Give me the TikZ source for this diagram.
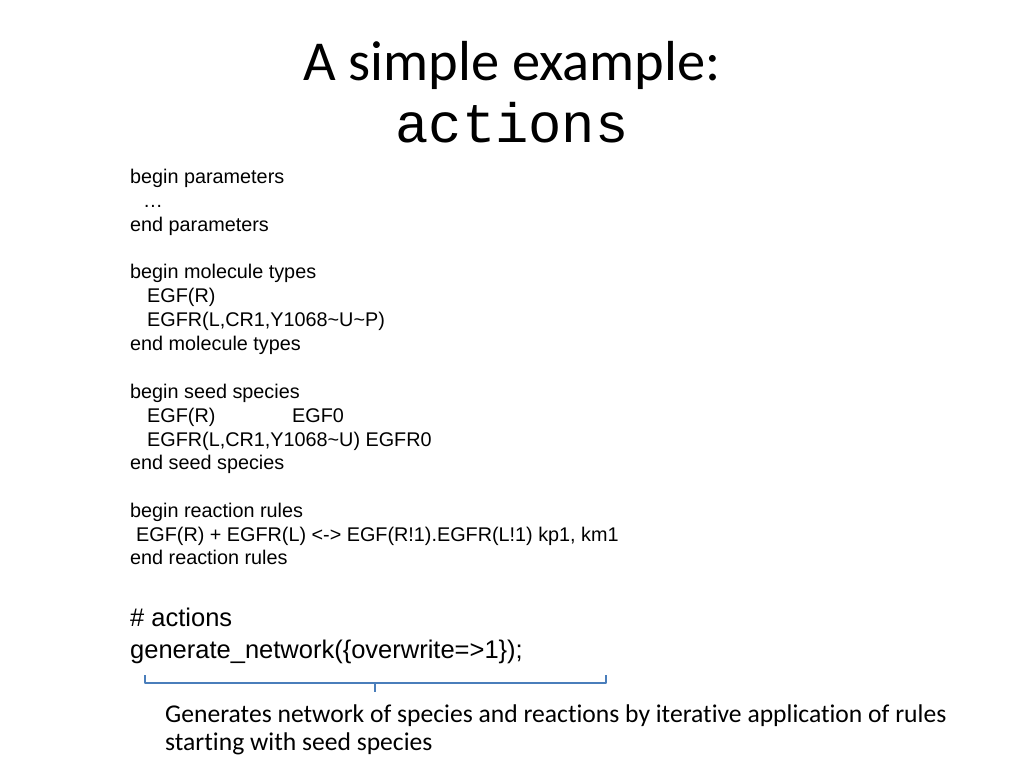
\documentclass[tikz,border=0pt]{standalone}
\usepackage{fontspec}
\setmainfont{Liberation Sans}
\newfontfamily\titlefont[Ligatures=NoCommon]{Carlito}
\newfontfamily\codefont{Liberation Mono}
\usetikzlibrary{positioning}

\definecolor{braceblue}{HTML}{4A7EBB}

\begin{document}
\begin{tikzpicture}[
    x = 1pt, y = -1pt,
    every node/.style = {inner sep = 0pt, anchor = base west},
    title/.style = {anchor = base, font = \titlefont\fontsize{56.4}{60}\selectfont},
    keyword/.style = {anchor = base, font = \codefont\fontsize{55.5}{60}\selectfont},
    code/.style = {font = \fontsize{19.8}{23.7}\selectfont},
    action/.style = {font = \fontsize{25.5}{32}\selectfont},
    note/.style = {font = \titlefont\fontsize{25.6}{29}\selectfont},
    brace/.style = {draw = braceblue, line width = 2.5pt, line join = round},
  ]
  \useasboundingbox (0,0) rectangle (1024,768);

  % heading
  \node [title] (title) at (512,80) {A simple example:};
  \node [keyword] (title word) at (512,142) {actions};

  % model blocks
  \node [code] (par begin) at (130,183) {begin parameters};
  \node [code] (par dots)  at (143,207) {\ldots};
  \node [code] (par end)   at (130,231) {end parameters};

  \node [code] (mol begin) at (130,278) {begin molecule types};
  \node [code] (mol egf)   at (147,302) {EGF(R)};
  \node [code] (mol egfr)  at (147,326) {EGFR(L,CR1,Y1068\textasciitilde U\textasciitilde P)};
  \node [code] (mol end)   at (130,350) {end molecule types};

  \node [code] (seed begin)    at (130,398) {begin seed species};
  \node [code] (seed egf)      at (147,422) {EGF(R)};
  \node [code] (seed egf name) at (292,422) {EGF0};
  \node [code] (seed egfr)     at (147,446) {EGFR(L,CR1,Y1068\textasciitilde U) EGFR0};
  \node [code] (seed end)      at (130,469) {end seed species};

  \node [code] (rule begin) at (130,517) {begin reaction rules};
  \node [code] (rule bind)  at (136,541) {EGF(R) + EGFR(L) <-> EGF(R!1).EGFR(L!1) kp1, km1};
  \node [code] (rule end)   at (130,564) {end reaction rules};

  % actions
  \node [action] (act comment)  at (130,626) {\# actions};
  \node [action] (act generate) at (130,658) {generate\_network(\{overwrite=>1\});};

  % brace and note
  \coordinate (brace left)  at (145,675);
  \coordinate (brace right) at (606,675);
  \coordinate (brace mid)   at (375,683);
  \draw [brace] (brace left) -- ++(0,8) -| (brace right);
  \draw [brace] (brace mid) -- ++(0,9);

  \node [note] (note a) at (165,722) {Generates network of species and reactions by iterative application of rules};
  \node [note] (note b) at (165,750) {starting with seed species};
\end{tikzpicture}
\end{document}
